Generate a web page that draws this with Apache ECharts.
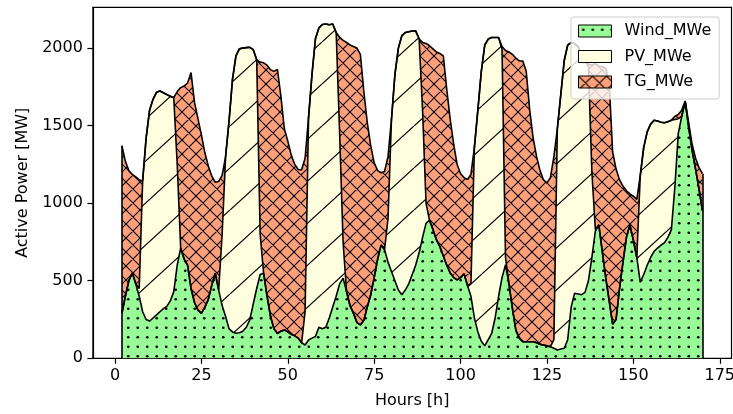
<!DOCTYPE html>
<html><head><meta charset="utf-8">
<script src="https://cdn.jsdelivr.net/npm/echarts@6/dist/echarts.min.js"></script>
<style>html,body{margin:0;padding:0;background:#fff}#c{width:733px;height:414px}</style>
</head><body><div id="c"></div>
<script>
// ---- data (hourly) ----
const hours = [
  2,3,4,5,6,7,8,9,10,11,
  12,13,14,15,16,17,18,19,20,21,
  22,23,24,25,26,27,28,29,30,31,
  32,33,34,35,36,37,38,39,40,41,
  42,43,44,45,46,47,48,49,50,51,
  52,53,54,55,56,57,58,59,60,61,
  62,63,64,65,66,67,68,69,70,71,
  72,73,74,75,76,77,78,79,80,81,
  82,83,84,85,86,87,88,89,90,91,
  92,93,94,95,96,97,98,99,100,101,
  102,103,104,105,106,107,108,109,110,111,
  112,113,114,115,116,117,118,119,120,121,
  122,123,124,125,126,127,128,129,130,131,
  132,133,134,135,136,137,138,139,140,141,
  142,143,144,145,146,147,148,149,150,151,
  152,153,154,155,156,157,158,159,160,161,
  162,163,164,165,166,167,168,169,170
];
const windMWe = [
  290,400,500,550,480,400,300,250,240,260,
  280,300,320,335,370,430,600,711,640,600,
  450,360,310,290,330,380,470,549,440,340,
  270,190,170,162,165,175,200,248,350,450,
  540,549,400,270,190,160,175,183,170,155,
  145,130,100,86,118,130,140,200,190,200,
  260,330,400,480,517,430,340,290,230,215,
  245,330,410,520,640,730,700,620,560,500,
  440,410,440,480,540,600,680,780,870,890,
  830,765,720,660,600,550,520,506,520,545,
  470,400,260,170,110,80,120,160,260,400,
  520,603,480,320,180,130,107,107,107,107,
  100,90,86,80,75,65,54,60,65,120,
  330,420,415,410,425,500,650,820,860,690,
  520,370,220,250,450,620,780,860,760,650,
  490,540,600,650,690,710,730,745,780,830,
  1100,1450,1560,1655,1490,1340,1220,1090,950
];
const pvMWe = [
  0,0,0,0,0,50,845,1170,1360,1410,
  1435,1423,1392,1365,1320,1250,650,0,0,0,
  0,0,0,0,0,0,0,0,0,460,
  1030,1340,1630,1788,1830,1825,1803,1757,1640,1475,
  260,0,0,0,0,0,0,0,0,0,
  0,0,0,214,1432,1700,1920,1930,1962,1955,
  1890,1825,1700,970,233,0,0,0,0,0,
  0,0,0,0,0,0,0,280,980,1330,
  1560,1670,1660,1625,1570,1511,1380,820,130,0,
  0,0,0,0,0,0,0,0,0,0,
  0,80,1100,1430,1740,1940,1938,1908,1808,1668,
  1470,47,0,0,0,0,0,0,0,0,
  0,0,0,0,0,55,1426,1640,1855,1900,
  1705,1610,1595,1550,1495,1380,550,10,0,0,
  0,0,0,0,0,0,0,0,0,0,
  690,820,860,860,845,820,792,774,745,705,
  440,95,0,0,0,0,0,0,0
];
const tgMWe = [
  1080,870,710,635,690,700,0,0,0,0,
  0,0,0,0,0,0,470,1034,1115,1175,
  1392,1290,1235,1150,995,860,704,586,700,380,
  0,0,0,0,0,0,0,0,0,0,
  1110,1356,1490,1590,1660,1702,1515,1297,1230,1155,
  1105,1087,1115,990,0,0,0,0,0,0,
  0,0,0,620,1300,1606,1680,1720,1770,1745,
  1475,1190,960,740,570,466,505,400,0,0,
  0,0,0,0,0,0,0,436,1030,1125,
  1165,1210,1245,1290,1134,990,860,744,670,620,
  683,705,0,0,0,0,0,0,0,0,
  20,1335,1495,1640,1755,1787,1810,1743,1493,1313,
  1200,1120,1064,1051,1090,1180,0,0,0,0,
  0,0,0,0,0,15,690,1070,1025,1190,
  1350,1410,1110,970,700,490,300,200,285,375,
  0,0,0,0,0,0,0,0,0,0,
  20,27,40,4,30,40,70,140,240
];
const seriesNames = ['Wind_MWe', 'PV_MWe', 'TG_MWe'];
const xTickValues = [0, 25, 50, 75, 100, 125, 150, 175];
const yTickValues = [0, 500, 1000, 1500, 2000];

[windMWe, pvMWe, tgMWe].forEach(function (a, i) {
  if (a.length !== hours.length) throw new Error('length mismatch ' + i + ': ' + a.length + ' vs ' + hours.length);
});

// ---- hatch patterns (matplotlib-like) ----
function tile(w, h, bg, draw) {
  const c = document.createElement('canvas');
  c.width = w; c.height = h;
  const g = c.getContext('2d');
  g.fillStyle = bg; g.fillRect(0, 0, w, h);
  g.strokeStyle = '#000'; g.fillStyle = '#000';
  draw(g, w, h);
  return { image: c, repeat: 'repeat' };
}
const fillColors = ['#98FB98', '#FFFFE0', '#FFA07A'];
const dotPattern = tile(38, 38, fillColors[0], function (g) {
  for (let i = 0; i < 4; i++) for (let j = 0; j < 4; j++) {
    g.beginPath(); g.arc(4.75 + i * 9.5, 4.75 + j * 9.5, 1.35, 0, Math.PI * 2); g.fill();
  }
});
const slashPattern = tile(46, 42, fillColors[1], function (g, w, h) {
  g.lineWidth = 1.2; g.beginPath();
  for (let k = -1; k <= 1; k++) { g.moveTo(k * w, h); g.lineTo(k * w + w, 0); }
  g.stroke();
});
const crossPattern = tile(14, 14, fillColors[2], function (g, w, h) {
  g.lineWidth = 1.1; g.beginPath();
  for (let k = -1; k <= 1; k++) {
    g.moveTo(k * w, 0); g.lineTo(k * w + w, h);
    g.moveTo(k * w, h); g.lineTo(k * w + w, 0);
  }
  g.stroke();
});
const patterns = [dotPattern, slashPattern, crossPattern];

// cumulative tops of the stack: wind, wind+PV, wind+PV+TG
const layers = [windMWe, pvMWe, tgMWe];
const cumTops = layers.map(function (_, k) {
  return hours.map(function (h, i) {
    let s = 0;
    for (let j = 0; j <= k; j++) s += layers[j][i];
    return [h, s];
  });
});

const last = hours.length - 1;
const font = 'DejaVu Sans';
const series = [];
// areas drawn from the top layer down so that each lower layer covers the one above it
[2, 1, 0].forEach(function (k, order) {
  series.push({
    name: seriesNames[k], type: 'line', symbol: 'none', z: 2 + order * 0.01, zlevel: 0,
    silent: true, animation: false,
    itemStyle: { color: fillColors[k] },
    lineStyle: { width: 0, color: fillColors[k] },
    areaStyle: { color: patterns[k], opacity: 1, origin: 'start' },
    data: cumTops[k]
  });
});
[0, 1, 2].forEach(function (k) {
  const s = {
    name: 'edge_' + k, type: 'line', symbol: 'none', z: 3,
    silent: true, animation: false,
    lineStyle: { width: 1.6, color: '#000' },
    itemStyle: { color: '#000' },
    data: cumTops[k]
  };
  if (k === 2) {
    s.markLine = {
      silent: true, symbol: 'none', animation: false,
      label: { show: false },
      lineStyle: { color: '#000', width: 1.6, type: 'solid' },
      data: [
        [{ coord: [hours[0], 0] }, { coord: [hours[0], cumTops[2][0][1]] }],
        [{ coord: [hours[last], 0] }, { coord: [hours[last], cumTops[2][last][1]] }]
      ]
    };
  }
  series.push(s);
});

const chart = echarts.init(document.getElementById('c'), null, { renderer: 'canvas' });
chart.setOption({
  animation: false,
  backgroundColor: '#fff',
  textStyle: { fontFamily: font },
  grid: {
    left: 92.9, top: 7.3, width: 638.6, height: 351,
    show: true, borderColor: '#000', borderWidth: 1.2, backgroundColor: 'transparent',
    containLabel: false, outerBoundsMode: 'none'
  },
  legend: {
    orient: 'vertical', left: 571, top: 17,
    padding: [5, 8, 8, 7],
    backgroundColor: 'rgba(255,255,255,0.8)', borderColor: '#cccccc', borderWidth: 1, borderRadius: 3,
    icon: 'rect', itemWidth: 33, itemHeight: 12, itemGap: 7.5,
    selectedMode: false,
    textStyle: { fontFamily: font, fontSize: 16, color: '#000', lineHeight: 18, padding: [0, 0, 0, 8] },
    data: seriesNames.map(function (n, i) {
      return { name: n, itemStyle: { color: patterns[i], borderColor: '#000', borderWidth: 1 } };
    })
  },
  xAxis: {
    type: 'value', min: -6.4, max: 178.4,
    name: 'Hours [h]', nameLocation: 'middle', nameGap: 35,
    nameTextStyle: { fontFamily: font, fontSize: 16, color: '#000' },
    axisLine: { show: true, onZero: false, lineStyle: { color: '#000', width: 1.2 } },
    axisTick: { show: true, customValues: xTickValues, length: 5.5, lineStyle: { color: '#000', width: 1.2 } },
    axisLabel: { customValues: xTickValues, color: '#000', fontFamily: font, fontSize: 16, margin: 10,
      formatter: function (v) { return String(v); } },
    splitLine: { show: false }
  },
  yAxis: {
    type: 'value', min: 0, max: 2263,
    name: 'Active Power [MW]', nameLocation: 'middle', nameGap: 59, nameRotate: 90,
    nameTextStyle: { fontFamily: font, fontSize: 16, color: '#000' },
    axisLine: { show: true, onZero: false, lineStyle: { color: '#000', width: 1.2 } },
    axisTick: { show: true, customValues: yTickValues, length: 5.5, lineStyle: { color: '#000', width: 1.2 } },
    axisLabel: { customValues: yTickValues, color: '#000', fontFamily: font, fontSize: 16, margin: 10,
      formatter: function (v) { return String(v); } },
    splitLine: { show: false }
  },
  series: series
});
</script>
</body></html>
